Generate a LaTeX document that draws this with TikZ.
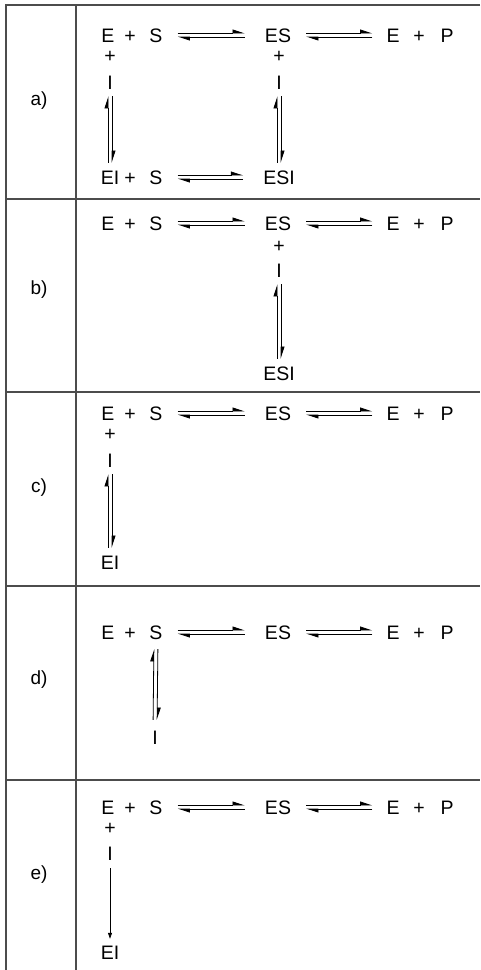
\documentclass[tikz,border=0pt]{standalone}
\usepackage{fontspec}
\setmainfont{Liberation Sans}
\usetikzlibrary{arrows.meta}

% equilibrium pair between two species (horizontal / vertical)
\newcommand{\eqh}[4]{%
  \draw[eqarrow, shorten <=#3, shorten >=#4] ([yshift=2pt]#1.east) -- ([yshift=2pt]#2.west);
  \draw[eqarrow, shorten <=#4, shorten >=#3] ([yshift=-2pt]#2.west) -- ([yshift=-2pt]#1.east);}
\newcommand{\eqv}[3]{%
  \draw[eqarrow, shorten <=#3, shorten >=#3] ([xshift=2pt]#1.south) -- ([xshift=2pt]#2.north);
  \draw[eqarrow, shorten <=#3, shorten >=#3] ([xshift=-2pt]#2.north) -- ([xshift=-2pt]#1.south);}

\begin{document}
\begin{tikzpicture}[
  x=1pt, y=-1pt,
  sp/.style={
    font=\fontsize{19.5}{22}\selectfont,
    inner sep=0pt,
    text height=14pt,
    text depth=0pt
  },
  case/.style={
    font=\fontsize{19}{22}\selectfont,
    inner sep=0pt
  },
  grid/.style={
    line width=1.3pt,
    draw=black!70
  },
  eqarrow/.style={
    -{Triangle[left,length=11pt,width=7pt]},
    line width=0.8pt
  },
  onearrow/.style={
    -{Triangle[length=6pt,width=4pt]},
    line width=0.8pt
  }
]
  \useasboundingbox (0,0) rectangle (480,970);

  % Table
  \draw[grid] (480,5) -- (6,5) -- (6,970);
  \draw[grid] (76,5) -- (76,970);
  \foreach \y in {199,392,586,780}
    \draw[grid] (6,\y) -- (480,\y);

  % Row a
  \node[case] (labA) at (39,101) {a)};
  \node[sp] (eA) at (108,35) {E};
  \node[sp] (plA) at (130,35) {+};
  \node[sp] (sA) at (156,35) {S};
  \node[sp] (esA) at (278,35) {ES};
  \node[sp] (eA2) at (393,35) {E};
  \node[sp] (plA2) at (419,35) {+};
  \node[sp] (pA) at (447,35) {P};
  \node[sp] (plAv) at (110,55) {+};
  \node[sp] (iA) at (110,82) {I};
  \node[sp] (plAw) at (279,55) {+};
  \node[sp] (iA2) at (279,82) {I};
  \node[sp] (eiA) at (110,177) {EI};
  \node[sp] (plA3) at (130,177) {+};
  \node[sp] (sA2) at (156,177) {S};
  \node[sp] (esiA) at (279,177) {ESI};
  \eqh{sA}{esA}{15pt}{20pt}
  \eqh{esA}{eA2}{15pt}{14pt}
  \eqh{sA2}{esiA}{15pt}{20pt}
  \eqv{iA}{eiA}{7pt}
  \eqv{iA2}{esiA}{7pt}

  % Row b
  \node[case] (labB) at (39,290) {b)};
  \node[sp] (eB) at (108,223) {E};
  \node[sp] (plB) at (130,223) {+};
  \node[sp] (sB) at (156,223) {S};
  \node[sp] (esB) at (278,223) {ES};
  \node[sp] (eB2) at (393,223) {E};
  \node[sp] (plB2) at (419,223) {+};
  \node[sp] (pB) at (447,223) {P};
  \node[sp] (plBv) at (279,245) {+};
  \node[sp] (iB) at (279,270) {I};
  \node[sp] (esiB) at (279,373) {ESI};
  \eqh{sB}{esB}{15pt}{20pt}
  \eqh{esB}{eB2}{15pt}{14pt}
  \eqv{iB}{esiB}{7pt}

  % Row c
  \node[case] (labC) at (39,488) {c)};
  \node[sp] (eC) at (108,413) {E};
  \node[sp] (plC) at (130,413) {+};
  \node[sp] (sC) at (156,413) {S};
  \node[sp] (esC) at (278,413) {ES};
  \node[sp] (eC2) at (393,413) {E};
  \node[sp] (plC2) at (419,413) {+};
  \node[sp] (pC) at (447,413) {P};
  \node[sp] (plCv) at (110,433) {+};
  \node[sp] (iC) at (110,460) {I};
  \node[sp] (eiC) at (110,562) {EI};
  \eqh{sC}{esC}{15pt}{20pt}
  \eqh{esC}{eC2}{15pt}{14pt}
  \eqv{iC}{eiC}{7pt}

  % Row d
  \node[case] (labD) at (39,680) {d)};
  \node[sp] (eD) at (108,632) {E};
  \node[sp] (plD) at (130,632) {+};
  \node[sp] (sD) at (156,632) {S};
  \node[sp] (esD) at (278,632) {ES};
  \node[sp] (eD2) at (393,632) {E};
  \node[sp] (plD2) at (419,632) {+};
  \node[sp] (pD) at (447,632) {P};
  \node[sp] (iD) at (155,737) {I};
  \eqh{sD}{esD}{15pt}{20pt}
  \eqh{esD}{eD2}{15pt}{14pt}
  \eqv{sD}{iD}{10pt}

  % Row e
  \node[case] (labE) at (39,875) {e)};
  \node[sp] (eE) at (108,807) {E};
  \node[sp] (plE) at (130,807) {+};
  \node[sp] (sE) at (156,807) {S};
  \node[sp] (esE) at (278,807) {ES};
  \node[sp] (eE2) at (393,807) {E};
  \node[sp] (plE2) at (419,807) {+};
  \node[sp] (pE) at (447,807) {P};
  \node[sp] (plEv) at (110,827) {+};
  \node[sp] (iE) at (110,853) {I};
  \node[sp] (eiE) at (110,952) {EI};
  \eqh{sE}{esE}{15pt}{20pt}
  \eqh{esE}{eE2}{15pt}{14pt}
  \draw[onearrow, shorten <=8pt, shorten >=6pt] (iE) -- (eiE);

\end{tikzpicture}
\end{document}
